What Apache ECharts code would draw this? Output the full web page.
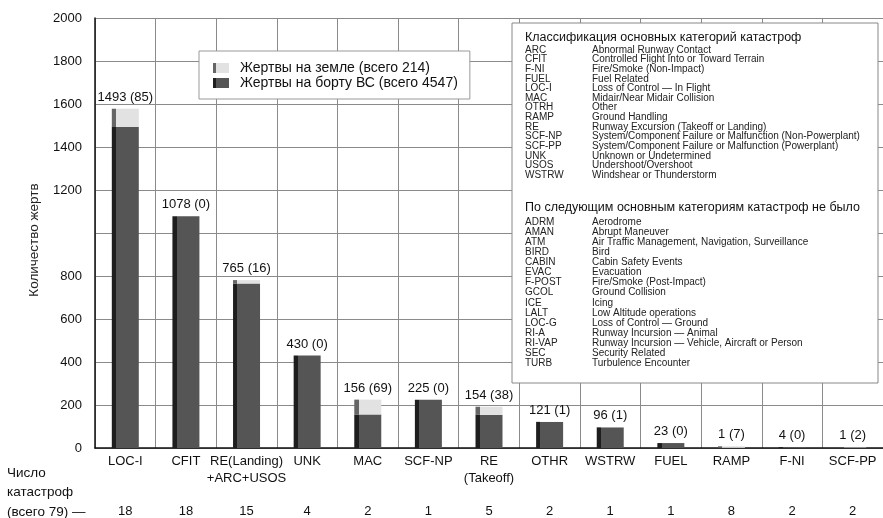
<!DOCTYPE html>
<html>
<head>
<meta charset="utf-8">
<script src="https://cdn.jsdelivr.net/npm/echarts@6/dist/echarts.min.js"></script>
<style>
html,body{margin:0;padding:0;background:#fff;}
#chart{width:883px;height:518px;}
</style>
</head>
<body>
<div id="chart"></div>
<script>
// ---- data ----
const categories = ['LOC-I', 'CFIT', 'RE(Landing)\n+ARC+USOS', 'UNK', 'MAC', 'SCF-NP', 'RE\n(Takeoff)', 'OTHR', 'WSTRW', 'FUEL', 'RAMP', 'F-NI', 'SCF-PP'];
const onBoard = [1493, 1078, 765, 430, 156, 225, 154, 121, 96, 23, 1, 4, 1];
const onGround = [85, 0, 16, 0, 69, 0, 38, 1, 1, 0, 7, 0, 2];
const accidents = [18, 18, 15, 4, 2, 1, 5, 2, 1, 1, 8, 2, 2];
const yTicks = [0, 200, 400, 600, 800, 1000, 1200, 1400, 1600, 1800, 2000];
const hiddenTickLabels = [1000];
const legendNames = ['Жертвы на земле (всего 214)', 'Жертвы на борту ВС (всего 4547)'];
const yTitle = 'Количество жертв';
const countTitle = ['Число', 'катастроф', '(всего 79) —'];
const classTitle = 'Классификация основных категорий катастроф';
const classCodes = ['ARC', 'CFIT', 'F-NI', 'FUEL', 'LOC-I', 'MAC', 'OTRH', 'RAMP', 'RE', 'SCF-NP', 'SCF-PP', 'UNK', 'USOS', 'WSTRW'];
const classDescs = ['Abnormal Runway Contact', 'Controlled Flight Into or Toward Terrain', 'Fire/Smoke (Non-Impact)', 'Fuel Related', 'Loss of Control — In Flight', 'Midair/Near Midair Collision', 'Other', 'Ground Handling', 'Runway Excursion (Takeoff or Landing)', 'System/Component Failure or Malfunction (Non-Powerplant)', 'System/Component Failure or Malfunction (Powerplant)', 'Unknown or Undetermined', 'Undershoot/Overshoot', 'Windshear or Thunderstorm'];
const noneTitle = 'По следующим основным категориям катастроф не было';
const noneCodes = ['ADRM', 'AMAN', 'ATM', 'BIRD', 'CABIN', 'EVAC', 'F-POST', 'GCOL', 'ICE', 'LALT', 'LOC-G', 'RI-A', 'RI-VAP', 'SEC', 'TURB'];
const noneDescs = ['Aerodrome', 'Abrupt Maneuver', 'Air Traffic Management, Navigation, Surveillance', 'Bird', 'Cabin Safety Events', 'Evacuation', 'Fire/Smoke (Post-Impact)', 'Ground Collision', 'Icing', 'Low Altitude operations', 'Loss of Control — Ground', 'Runway Incursion — Animal', 'Runway Incursion — Vehicle, Aircraft or Person', 'Security Related', 'Turbulence Encounter'];

// ---- chart ----
const FONT = '"Liberation Sans", Arial, sans-serif';
const chart = echarts.init(document.getElementById('chart'), null, {renderer: 'canvas'});

function stripeGrad(stripe, main) {
  return new echarts.graphic.LinearGradient(0, 0, 1, 0, [
    {offset: 0, color: stripe}, {offset: 0.16, color: stripe},
    {offset: 0.16, color: main}, {offset: 1, color: main}
  ]);
}

const graphics = [];
const bx = 512, by = 23, bw = 366, bh = 360;
graphics.push({type: 'rect', shape: {x: bx, y: by, width: bw, height: bh}, style: {fill: '#fff', stroke: '#888', lineWidth: 1}, z: 10});
graphics.push({type: 'text', x: 525, y: 38, style: {text: classTitle, font: '12.5px ' + FONT, fill: '#111', textVerticalAlign: 'middle'}, z: 11});
classCodes.forEach((c, i) => {
  const y = 50 + i * 9.62;
  graphics.push({type: 'text', x: 525, y: y, style: {text: c, font: '10px ' + FONT, fill: '#222', textVerticalAlign: 'middle'}, z: 11});
  graphics.push({type: 'text', x: 592, y: y, style: {text: classDescs[i], font: '10px ' + FONT, fill: '#222', textVerticalAlign: 'middle'}, z: 11});
});
graphics.push({type: 'text', x: 525, y: 208, style: {text: noneTitle, font: '12.5px ' + FONT, fill: '#111', textVerticalAlign: 'middle'}, z: 11});
noneCodes.forEach((c, i) => {
  const y = 222 + i * 10.1;
  graphics.push({type: 'text', x: 525, y: y, style: {text: c, font: '10px ' + FONT, fill: '#222', textVerticalAlign: 'middle'}, z: 11});
  graphics.push({type: 'text', x: 592, y: y, style: {text: noneDescs[i], font: '10px ' + FONT, fill: '#222', textVerticalAlign: 'middle'}, z: 11});
});
// y axis title
graphics.push({type: 'text', x: 34, y: 240, rotation: Math.PI / 2, style: {text: yTitle, font: '13.5px ' + FONT, fill: '#222', textAlign: 'center', textVerticalAlign: 'middle'}, z: 11});
// count title
countTitle.forEach((t, i) => {
  graphics.push({type: 'text', x: 7, y: 473 + i * 19.5, style: {text: t, font: '13.5px ' + FONT, fill: '#111', textVerticalAlign: 'middle'}, z: 11});
});

const option = {
  backgroundColor: '#fff',
  animation: false,
  textStyle: {fontFamily: FONT},
  grid: {left: 95, top: 18, width: 791, height: 430, containLabel: false},
  legend: {
    left: 199, top: 51,
    orient: 'vertical',
    data: [legendNames[0], legendNames[1]],
    backgroundColor: '#fff',
    borderColor: '#999', borderWidth: 1,
    padding: [10, 12, 9, 14],
    itemWidth: 16, itemHeight: 10, itemGap: 1,
    textStyle: {fontSize: 14, color: '#111', fontFamily: FONT, padding: [0, 0, 0, 6]},
    icon: 'rect',
    z: 12
  },
  xAxis: [{
    type: 'category',
    data: categories,
    position: 'bottom',
    axisLine: {show: true, lineStyle: {color: '#111', width: 1.5}},
    axisTick: {show: false},
    axisLabel: {color: '#111', fontSize: 13, margin: 5, lineHeight: 17, fontFamily: FONT, interval: 0},
    splitLine: {show: true, lineStyle: {color: '#8a8a8a', width: 1}}
  }, {
    type: 'category',
    data: accidents,
    position: 'bottom',
    offset: 57,
    axisLine: {show: false},
    axisTick: {show: false},
    axisLabel: {color: '#111', fontSize: 13, margin: 0, fontFamily: FONT, interval: 0},
    splitLine: {show: false}
  }],
  yAxis: {
    type: 'value',
    min: 0, max: 2000, interval: 200,
    axisLine: {show: true, lineStyle: {color: '#111', width: 1.5}},
    axisTick: {show: false},
    axisLabel: {
      color: '#111', fontSize: 13, margin: 13, fontFamily: FONT,
      formatter: v => (yTicks.includes(v) && !hiddenTickLabels.includes(v)) ? String(v) : ''
    },
    splitLine: {show: true, lineStyle: {color: '#8a8a8a', width: 1}}
  },
  series: [{
    name: legendNames[1],
    type: 'bar',
    stack: 'total',
    data: onBoard,
    barWidth: 27,
    itemStyle: {color: stripeGrad('#1e1e1e', '#555555')}
  }, {
    name: legendNames[0],
    type: 'bar',
    stack: 'total',
    data: onGround,
    barWidth: 27,
    itemStyle: {color: stripeGrad('#666666', '#e2e2e2')},
    label: {
      show: true, position: 'top', distance: 5,
      color: '#111', fontSize: 13, fontFamily: FONT,
      formatter: p => onBoard[p.dataIndex] + ' (' + onGround[p.dataIndex] + ')'
    }
  }],
  graphic: graphics
};
chart.setOption(option);
</script>
</body>
</html>
